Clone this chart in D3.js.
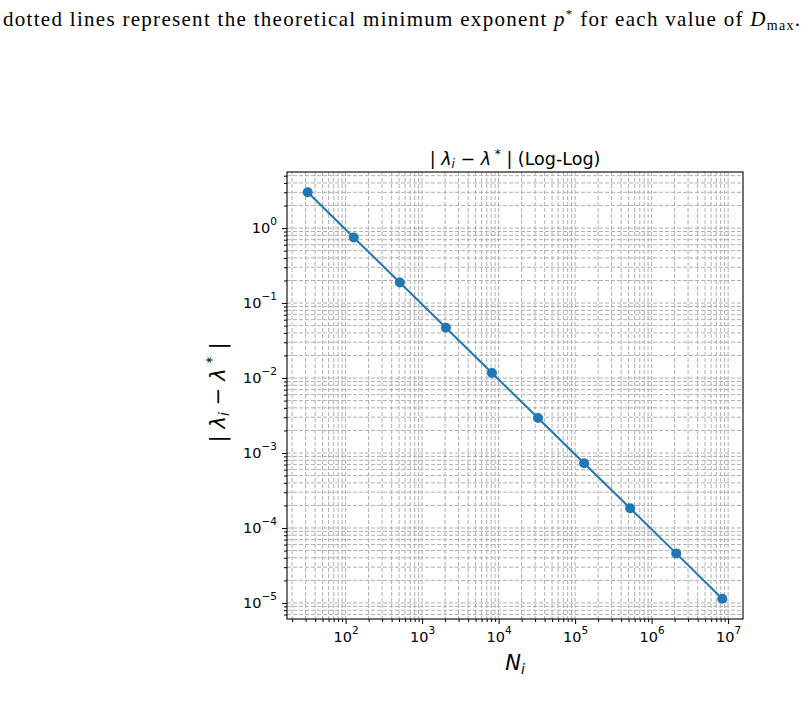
<!DOCTYPE html>
<html>
<head>
<meta charset="utf-8">
<script src="https://cdn.jsdelivr.net/npm/d3@7"></script>
<style>
body { margin: 0; background: #fff; }
svg text { font-family: "DejaVu Sans", sans-serif; fill: #000; }
.caption { font-family: "Liberation Serif", "DejaVu Serif", serif; }
</style>
</head>
<body>
<svg id="chart" width="810" height="711"></svg>
<script>
// values
const sizes = [32, 128, 512, 2048, 8192, 32768, 131072, 524288, 2097152, 8388608];
const errors = [3.0, 0.75, 0.188, 0.0469, 0.0117, 0.00293, 0.000732, 0.000183, 4.58e-5, 1.14e-5];
const xMajorExp = [2, 3, 4, 5, 6, 7];
const yMajorExp = [0, -1, -2, -3, -4, -5];

const svg = d3.select("#chart");
const plotLeft = 287, plotTop = 172, plotW = 456, plotH = 447;
const blue = "#1f77b4";

// matplotlib-ish 5% margin in log space
function logDomain(vals) {
    const lo = Math.log10(d3.min(vals)), hi = Math.log10(d3.max(vals));
    const pad = (hi - lo) * 0.05;
    return [Math.pow(10, lo - pad), Math.pow(10, hi + pad)];
}

const x = d3.scaleLog().domain(logDomain(sizes)).range([plotLeft, plotLeft + plotW]);
const y = d3.scaleLog().domain(logDomain(errors)).range([plotTop + plotH, plotTop]);

function minorTicks(scale) {
    const [a, b] = scale.domain();
    const out = [];
    for (let e = Math.floor(Math.log10(a)); e <= Math.ceil(Math.log10(b)); e++) {
        for (let m = 2; m <= 9; m++) {
            const v = m * Math.pow(10, e);
            if (v >= a && v <= b) out.push(v);
        }
    }
    return out;
}
const xMajor = xMajorExp.map(e => Math.pow(10, e));
const yMajor = yMajorExp.map(e => Math.pow(10, e));
const xMinor = minorTicks(x);
const yMinor = minorTicks(y);

// caption line from the page above the figure
const cap = svg.append("text")
    .attr("class", "caption")
    .attr("x", 3)
    .attr("y", 26)
    .attr("font-size", 21)
    .attr("textLength", 797)
    .attr("lengthAdjust", "spacing");
cap.append("tspan").text("dotted lines represent the theoretical minimum exponent ");
cap.append("tspan").attr("font-style", "italic").text("p");
cap.append("tspan").attr("font-size", 13).attr("dy", -8).text("*");
cap.append("tspan").attr("dy", 8).text(" for each value of ");
cap.append("tspan").attr("font-style", "italic").text("D");
cap.append("tspan").attr("font-size", 14).attr("dy", 4).text("max");
cap.append("tspan").attr("dy", -4).text(".");

// grid (major + minor, dashed)
const grid = svg.append("g")
    .attr("stroke", "#b0b0b0")
    .attr("stroke-width", 1)
    .attr("stroke-dasharray", "4,2");
grid.selectAll("line.gx")
    .data(xMajor.concat(xMinor).filter(v => v >= x.domain()[0] && v <= x.domain()[1]))
    .enter().append("line")
    .attr("class", "gx")
    .attr("x1", d => x(d)).attr("x2", d => x(d))
    .attr("y1", plotTop).attr("y2", plotTop + plotH);
grid.selectAll("line.gy")
    .data(yMajor.concat(yMinor).filter(v => v <= y.domain()[1] && v >= y.domain()[0]))
    .enter().append("line")
    .attr("class", "gy")
    .attr("y1", d => y(d)).attr("y2", d => y(d))
    .attr("x1", plotLeft).attr("x2", plotLeft + plotW);

// series
const line = d3.line()
    .x((d, i) => x(sizes[i]))
    .y(d => y(d));
svg.append("path")
    .datum(errors)
    .attr("fill", "none")
    .attr("stroke", blue)
    .attr("stroke-width", 2)
    .attr("d", line);
svg.selectAll("circle.pt")
    .data(errors)
    .enter().append("circle")
    .attr("class", "pt")
    .attr("cx", (d, i) => x(sizes[i]))
    .attr("cy", d => y(d))
    .attr("r", 5)
    .attr("fill", blue);

// spines
svg.append("rect")
    .attr("x", plotLeft).attr("y", plotTop)
    .attr("width", plotW).attr("height", plotH)
    .attr("fill", "none")
    .attr("stroke", "#000")
    .attr("stroke-width", 1.1);

function powLabel(sel, exps) {
    sel.each(function(d, i) {
        const t = d3.select(this).text(null);
        t.append("tspan").text("10");
        const e = exps[i];
        t.append("tspan")
            .attr("font-size", 10.5)
            .attr("dy", "-0.8em")
            .text(e < 0 ? "\u2212" + (-e) : String(e));
    });
}

// x axis
const xAxis = svg.append("g").attr("transform", `translate(0,${plotTop + plotH})`);
xAxis.call(d3.axisBottom(x).tickValues(xMinor).tickSize(3).tickFormat(""));
xAxis.call(g => g.select(".domain").remove());
const xAxisMaj = svg.append("g").attr("transform", `translate(0,${plotTop + plotH})`);
xAxisMaj.call(d3.axisBottom(x).tickValues(xMajor).tickSize(5).tickPadding(8).tickFormat(d => d));
xAxisMaj.select(".domain").remove();
xAxisMaj.selectAll(".tick text").attr("font-size", 14.5).attr("font-family", "DejaVu Sans")
    .call(powLabel, xMajorExp);

// y axis
const yAxis = svg.append("g").attr("transform", `translate(${plotLeft},0)`);
yAxis.call(d3.axisLeft(y).tickValues(yMinor).tickSize(3).tickFormat(""));
yAxis.select(".domain").remove();
const yAxisMaj = svg.append("g").attr("transform", `translate(${plotLeft},0)`);
yAxisMaj.call(d3.axisLeft(y).tickValues(yMajor).tickSize(5).tickPadding(5).tickFormat(d => d));
yAxisMaj.select(".domain").remove();
yAxisMaj.selectAll(".tick text").attr("font-size", 14.5).attr("font-family", "DejaVu Sans")
    .call(powLabel, yMajorExp);
svg.selectAll(".tick line").attr("stroke", "#000").attr("stroke-width", 1);

// title
const title = svg.append("text")
    .attr("x", plotLeft + plotW / 2)
    .attr("y", plotTop - 7)
    .attr("text-anchor", "middle")
    .attr("font-size", 17.5);
title.append("tspan").text("| ");
title.append("tspan").attr("font-style", "italic").text("\u03bb");
title.append("tspan").attr("font-style", "italic").attr("font-size", 12).attr("dy", 3).text("i");
title.append("tspan").attr("dy", -3).text(" \u2212 ");
title.append("tspan").attr("font-style", "italic").text("\u03bb");
title.append("tspan").attr("font-size", 12).attr("dy", -7).text(" *");
title.append("tspan").attr("dy", 7).text(" | (Log-Log)");

// y label
const ylab = svg.append("text")
    .attr("transform", `translate(225,${plotTop + plotH / 2 - 3}) rotate(-90)`)
    .attr("text-anchor", "middle")
    .attr("font-size", 21)
    .attr("textLength", 100)
    .attr("lengthAdjust", "spacing");
ylab.append("tspan").text("| ");
ylab.append("tspan").attr("font-style", "italic").text("\u03bb");
ylab.append("tspan").attr("font-style", "italic").attr("font-size", 14).attr("dy", 4).text("i");
ylab.append("tspan").attr("dy", -4).text(" \u2212 ");
ylab.append("tspan").attr("font-style", "italic").text("\u03bb");
ylab.append("tspan").attr("font-size", 14).attr("dy", -9).text(" *");
ylab.append("tspan").attr("dy", 9).text(" |");

// x label
const xlab = svg.append("text")
    .attr("x", plotLeft + plotW / 2)
    .attr("y", 670)
    .attr("text-anchor", "middle")
    .attr("font-size", 21);
xlab.append("tspan").attr("font-style", "italic").text("N");
xlab.append("tspan").attr("font-style", "italic").attr("font-size", 14).attr("dy", 4).text("i");
</script>
</body>
</html>
